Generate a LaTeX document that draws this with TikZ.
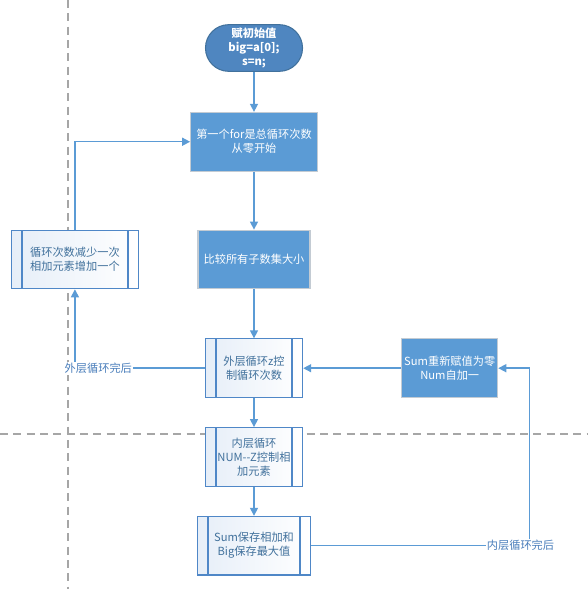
\documentclass[tikz,border=0pt]{standalone}
\usepackage{fontspec}
\setmainfont{Noto Sans CJK SC}
\usepackage{tikz}
\usetikzlibrary{positioning,arrows.meta}
\definecolor{flow}{HTML}{5B9BD5}
\definecolor{termfill}{HTML}{4F86C0}
\definecolor{termline}{HTML}{41719C}
\definecolor{boxline}{HTML}{C3CBD3}
\definecolor{subline}{HTML}{4F87C7}
\definecolor{subfill}{HTML}{E6EEF8}
\definecolor{subtext}{HTML}{41719C}
\definecolor{labeltext}{HTML}{4A7EBB}
\definecolor{guide}{HTML}{A6A6A6}

\begin{document}
\begin{tikzpicture}[%
    x=0.75pt,
    y=-0.75pt,
    ->,
    >={Triangle[width=6pt,length=6pt]},
    line width=1.1pt,
    draw=flow,
    font=\fontsize{8.4}{10.5}\selectfont,
    term/.style={%
      rectangle,
      rounded corners=17.4pt,
      minimum width=72.75pt,
      minimum height=35pt,
      inner sep=0pt,
      align=center,
      fill=termfill,
      draw=termline,
      line width=0.8pt,
      text=white
    },
    proc/.style={%
      rectangle,
      minimum height=44pt,
      inner sep=0pt,
      align=center,
      fill=flow,
      draw=boxline,
      line width=0.8pt,
      text=white
    },
    sub/.style={%
      rectangle,
      minimum height=44pt,
      inner sep=0pt,
      align=center,
      left color=subfill,
      right color=white,
      draw=subline,
      line width=0.8pt,
      text=subtext,
      path picture={%
        \draw[-, subline, line width=1.6pt]
          ([xshift=8pt]path picture bounding box.south west) -- ([xshift=8pt]path picture bounding box.north west)
          ([xshift=-8pt]path picture bounding box.south east) -- ([xshift=-8pt]path picture bounding box.north east);
      }
    },
    note/.style={%
      fill=white,
      text=labeltext,
      inner sep=1pt
    }
  ]
    \useasboundingbox (0,0) rectangle (587,589);
    % page guides
    \draw[-, guide, line width=0.8pt, dash pattern=on 6pt off 4pt] (68,0) -- (68,589);
    \draw[-, guide, line width=0.8pt, dash pattern=on 6pt off 4pt] (0,434) -- (587,434);

    \node[term] (start) at (254,48)                                          {\textbf{赋初始值}\\\textbf{big=a[0];}\\\textbf{s=n;}};
    \node[proc, minimum width=95pt] (for) [node distance=30pt, below=of start]  {第一个for是总循环次数\\从零开始};
    \node[proc, minimum width=84pt] (compare) [node distance=43.5pt, below=of for] {比较所有子数集大小};
    \node[sub, minimum width=73pt] (outer) [node distance=36.75pt, below=of compare] {外层循环z控\\制循环次数};
    \node[sub, minimum width=73pt] (inner) [node distance=21.75pt, below=of outer]   {内层循环\\NUM-{}-Z控制相\\加元素};
    \node[sub, minimum width=85pt] (save) [node distance=21.75pt, below=of inner]    {Sum保存相加和\\Big保存最大值};
    \node[sub, minimum width=95pt] (reduce) [node distance=44pt, left=of compare]    {循环次数减少一次\\相加元素增加一个};
    \node[proc, minimum width=72pt] (reset) [node distance=73.5pt, right=of outer]   {Sum重新赋值为零\\Num自加一};
    \coordinate (back) at ([xshift=23.25pt]reset.east);

    \path (start) edge (for)
          (for) edge (compare)
          (compare) edge (outer)
          (outer) edge (inner)
          (inner) edge (save)
          (reset) edge (outer)
          ;
    \draw (outer) -| node[note, pos=0.41] {外层循环完后} (reduce);
    \draw (reduce) |- (for);
    \draw (save) -| node[note, pos=0.48] {内层循环完后} (back) |- (reset);
  \end{tikzpicture}
\end{document}
